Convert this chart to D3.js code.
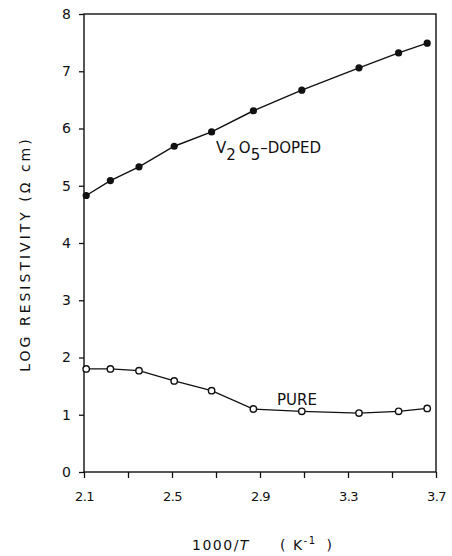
<!DOCTYPE html>
<html>
<head>
<meta charset="utf-8">
<script src="https://cdn.jsdelivr.net/npm/d3@7"></script>
<style>
  body { margin: 0; background: #fff; }
  text { font-family: 'DejaVu Sans', sans-serif; fill: #111; }
</style>
</head>
<body>
<script>
// data
const invT = [2.11, 2.22, 2.35, 2.51, 2.68, 2.87, 3.09, 3.35, 3.53, 3.66];
const doped = [4.83, 5.09, 5.33, 5.69, 5.94, 6.31, 6.67, 7.06, 7.32, 7.49];
const pure = [1.8, 1.8, 1.77, 1.59, 1.42, 1.1, 1.06, 1.03, 1.06, 1.11];
const xTicks = [2.1, 2.3, 2.5, 2.7, 2.9, 3.1, 3.3, 3.5, 3.7];
const xTickLabels = ['2.1', '2.5', '2.9', '3.3', '3.7'];
const yTicks = [0, 1, 2, 3, 4, 5, 6, 7, 8];

const width = 452;
const height = 556;
const margin = { top: 14, right: 16, bottom: 84, left: 84 };

const svg = d3
  .select('body')
  .append('svg')
  .attr('width', width)
  .attr('height', height);

const x = d3
  .scaleLinear()
  .domain([2.1, 3.7])
  .range([margin.left, width - margin.right]);
const y = d3
  .scaleLinear()
  .domain([0, 8])
  .range([height - margin.bottom, margin.top]);

// frame
svg
  .append('rect')
  .attr('x', x(2.1))
  .attr('y', y(8))
  .attr('width', x(3.7) - x(2.1))
  .attr('height', y(0) - y(8))
  .attr('fill', 'none')
  .attr('stroke', '#111')
  .attr('stroke-width', 1.4);

// axes
const xAxis = d3
  .axisBottom(x)
  .tickValues(xTicks)
  .tickSize(6)
  .tickFormat((d) => (xTickLabels.includes(d.toFixed(1)) ? d.toFixed(1) : ''));
const xg = svg
  .append('g')
  .attr('transform', `translate(0,${y(0)})`)
  .call(xAxis);
xg.select('.domain').remove();
xg.selectAll('line').attr('stroke', '#111').attr('stroke-width', 1.3);
xg.selectAll('text')
  .attr('dy', '1.55em')
  .style('font-size', '13px')
  .style('letter-spacing', '-0.5px');

const yAxis = d3.axisLeft(y).tickValues(yTicks).tickSize(5).tickPadding(8);
const yg = svg
  .append('g')
  .attr('transform', `translate(${x(2.1)},0)`)
  .call(yAxis);
yg.select('.domain').remove();
yg.selectAll('line').attr('stroke', '#111').attr('stroke-width', 1.3);
yg.selectAll('text').style('font-size', '14px');

// axis titles
const xTitle = svg
  .append('text')
  .attr('x', 192)
  .attr('y', 550)
  .style('font-size', '14px')
  .style('letter-spacing', '1.5px');
xTitle.append('tspan').text('1000/');
xTitle.append('tspan').style('font-style', 'italic').text('T');
xTitle.append('tspan').attr('dx', 30).text('(');
xTitle.append('tspan').attr('dx', 6).text('K');
xTitle.append('tspan').attr('dy', -6).style('font-size', '10px').text('-1');
xTitle.append('tspan').attr('dy', 6).attr('dx', 10).text(')');

svg
  .append('text')
  .attr('transform', `translate(30,${(y(0) + y(8)) / 2 + 11}) rotate(-90)`)
  .attr('text-anchor', 'middle')
  .style('font-size', '14px')
  .style('letter-spacing', '3px')
  .text('LOG   RESISTIVITY  (\u03a9 cm)');

// series
const line = d3
  .line()
  .x((d) => x(d[0]))
  .y((d) => y(d[1]));

const dopedData = d3.zip(invT, doped);
const pureData = d3.zip(invT, pure);

svg
  .append('path')
  .datum(dopedData)
  .attr('d', line)
  .attr('fill', 'none')
  .attr('stroke', '#111')
  .attr('stroke-width', 1.4);

svg
  .append('g')
  .selectAll('circle')
  .data(dopedData)
  .enter()
  .append('circle')
  .attr('cx', (d) => x(d[0]))
  .attr('cy', (d) => y(d[1]))
  .attr('r', 3.6)
  .attr('fill', '#111');

svg
  .append('path')
  .datum(pureData)
  .attr('d', line)
  .attr('fill', 'none')
  .attr('stroke', '#111')
  .attr('stroke-width', 1.3);

svg
  .append('g')
  .selectAll('circle')
  .data(pureData)
  .enter()
  .append('circle')
  .attr('cx', (d) => x(d[0]))
  .attr('cy', (d) => y(d[1]))
  .attr('r', 3.2)
  .attr('fill', '#fff')
  .attr('stroke', '#111')
  .attr('stroke-width', 1.4);

// series labels
const dopedLabel = svg
  .append('text')
  .attr('x', 216)
  .attr('y', 153)
  .style('font-size', '15px');
dopedLabel.append('tspan').text('V');
dopedLabel.append('tspan').attr('dy', 7).text('2');
dopedLabel.append('tspan').attr('dy', -7).attr('dx', 3).text('O');
dopedLabel.append('tspan').attr('dy', 7).text('5');
dopedLabel.append('tspan').attr('dy', -7).text('\u2013DOPED');

svg
  .append('text')
  .attr('x', 277)
  .attr('y', 405)
  .style('font-size', '15px')
  .text('PURE');
</script>
</body>
</html>
